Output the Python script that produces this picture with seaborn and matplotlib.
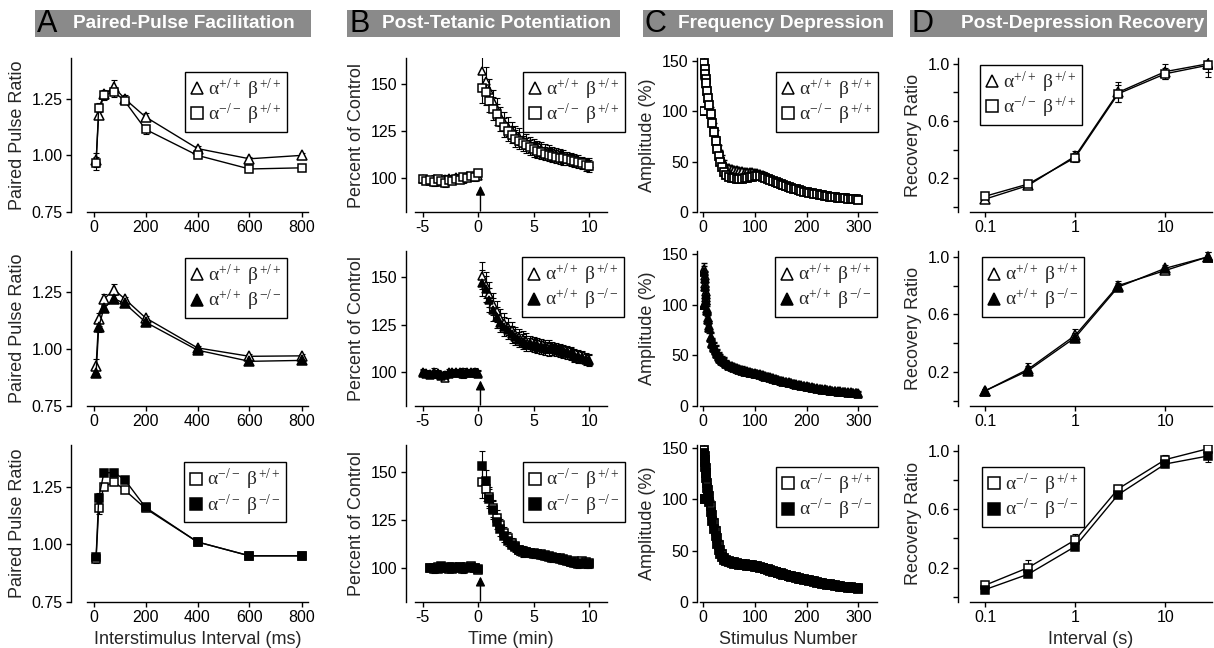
import numpy as np
import matplotlib
matplotlib.use('Agg')
import matplotlib.pyplot as plt
import seaborn as sns
from matplotlib.lines import Line2D
from matplotlib.patches import Rectangle

sns.set_style('ticks')
plt.rcParams['font.family'] = ['Liberation Sans', 'DejaVu Sans']
plt.rcParams['mathtext.fontset'] = 'custom'
plt.rcParams['mathtext.rm'] = 'Liberation Serif'
plt.rcParams['mathtext.it'] = 'Liberation Serif'
plt.rcParams['mathtext.bf'] = 'Liberation Serif:bold'
plt.rcParams['axes.unicode_minus'] = False

# ---------------- DATA ----------------
# Panel A: paired-pulse facilitation
pp_x = [10, 20, 40, 80, 120, 200, 400, 600, 800]
ppA_wt = [0.98, 1.18, 1.27, 1.30, 1.25, 1.17, 1.03, 0.985, 1.00]
ppA_wt_err = [0.03, 0.02, 0.02, 0.035, 0.015, 0.015, 0.01, 0.01, 0.01]
ppA_ako = [0.965, 1.21, 1.265, 1.28, 1.24, 1.115, 1.00, 0.94, 0.945]
ppA_ako_err = [0.03, 0.02, 0.02, 0.02, 0.015, 0.02, 0.01, 0.008, 0.01]
ppB_wt = [0.925, 1.13, 1.22, 1.26, 1.22, 1.137, 1.005, 0.968, 0.97]
ppB_wt_err = [0.03, 0.03, 0.02, 0.025, 0.01, 0.01, 0.008, 0.008, 0.008]
ppB_bko = [0.895, 1.095, 1.18, 1.22, 1.20, 1.118, 0.995, 0.946, 0.95]
ppB_bko_err = [0.015, 0.02, 0.015, 0.02, 0.01, 0.01, 0.008, 0.006, 0.006]
ppC_ako = [0.937, 1.157, 1.25, 1.27, 1.235, 1.155, 1.01, 0.95, 0.95]
ppC_ako_err = [0.02, 0.025, 0.015, 0.015, 0.01, 0.01, 0.008, 0.008, 0.008]
ppC_dko = [0.946, 1.20, 1.31, 1.31, 1.28, 1.16, 1.01, 0.95, 0.95]
ppC_dko_err = [0.015, 0.02, 0.01, 0.015, 0.01, 0.01, 0.008, 0.008, 0.008]

# Panel B: post-tetanic potentiation (time in min)
t_pre = [-5.0, -4.67, -4.33, -4.0, -3.67, -3.33, -3.0, -2.67, -2.33, -2.0,
         -1.67, -1.33, -1.0, -0.67, -0.33, 0.0]
t_post = [0.33, 0.67, 1.0, 1.33, 1.67, 2.0, 2.33, 2.67, 3.0, 3.33, 3.67, 4.0,
          4.33, 4.67, 5.0, 5.33, 5.67, 6.0, 6.33, 6.67, 7.0, 7.33, 7.67, 8.0,
          8.33, 8.67, 9.0, 9.33, 9.67, 10.0]
pre_err = [1.5, 1.5, 1.5, 2, 1.5, 1.5, 2, 1.5, 1.5, 1.5, 1.5, 2, 1.5, 1.5, 2, 1.5]

ptpA_wt_pre = [99.5, 99.0, 98.5, 99.5, 99.0, 98.0, 99.5, 100.0, 99.0, 100.5,
               100.0, 99.5, 101.0, 100.5, 101.5, 101.0]
ptpA_wt_post = [157, 152, 147, 141, 137, 133, 130, 127.5, 125.5, 123.5, 122, 120.5,
                119.5, 118, 117, 116, 115.5, 114.5, 114, 113, 112.5, 112, 111.5,
                111, 110.5, 110, 109.5, 108.5, 108, 107.5]
ptpA_ako_pre = [99.5, 98.5, 99.0, 98.0, 99.5, 98.5, 97.5, 99.0, 98.5, 99.5,
                99.0, 100.5, 100.0, 101.0, 100.5, 103.0]
ptpA_ako_post = [148, 146, 141, 137, 134, 130, 127, 125, 123, 121, 120, 118.5,
                 117.5, 116.5, 115.5, 114.5, 114, 113, 112.5, 112, 111.5, 111,
                 110.5, 110, 109.5, 109, 108.5, 108, 107, 106.5]
ptpA_err = [8, 7, 6, 6, 5.5, 5, 5, 5, 4.5, 4.5, 4.5, 4, 4, 4, 4, 4, 4, 3.5, 3.5,
            3.5, 3.5, 3.5, 3.5, 3, 3, 3, 3, 3, 3, 3]

ptpB_wt_pre = [100, 99.5, 99, 100, 99, 98.5, 97, 100, 99.5, 100, 99.5, 100, 100,
               99.5, 100, 99.5]
ptpB_wt_post = [151, 146, 141, 136, 132, 128.5, 126, 124, 122, 120, 118.5, 117.5,
                116.5, 115.5, 115, 114.5, 114, 113.5, 113.5, 113, 112.5, 112,
                111.5, 111, 110, 109, 108.5, 108, 107, 106.5]
ptpB_bko_pre = [99.5, 99, 98.5, 99, 99.5, 98, 98.5, 99, 100, 99.5, 100, 99, 99.5,
                100, 99.5, 99]
ptpB_bko_post = [147, 144, 138, 133, 129, 126, 124, 122, 120, 118.5, 117, 116,
                 115, 114.5, 114, 113.5, 113, 112.5, 112, 112, 111.5, 111, 110.5,
                 110, 109.5, 108.5, 108, 107.5, 106.5, 106]
ptpB_err = [7, 7, 6.5, 6, 5.5, 5, 5, 4.5, 4.5, 4, 4, 4, 4, 3.5, 3.5, 3.5, 3.5,
            3.5, 3.5, 3, 3, 3, 3, 3, 3, 3, 3, 3, 3, 3]

ptpC_ako_pre = [100, 99, 100.5, 99.5, 100, 99, 100.5, 99.5, 100.5, 99.5, 100.5,
                101, 100, 98.5]
ptpC_ako_post = [144.5, 141, 137, 131, 126, 122, 118, 115.5, 113, 111, 109, 108,
                 108, 107.5, 107.5, 107, 107, 106.5, 106, 105.5, 105, 105, 104.5,
                 104, 103, 103.5, 103, 103.5, 103, 102.5]
ptpC_dko_pre = [99.5, 100, 99, 101, 99.5, 100.5, 99, 100, 100.5, 99, 100, 100.5,
                99.5, 99]
ptpC_dko_post = [153, 145, 136, 130, 124, 120, 116.5, 114, 112, 110.5, 109,
                 108.5, 108, 107.5, 107, 107, 106.5, 106, 105.5, 105, 105, 104.5,
                 104, 103.5, 103, 102.5, 102, 102.5, 102, 102]
ptpC_err = [8, 6, 5, 4.5, 4, 3.5, 3, 3, 2.5, 2.5, 2.5, 2.5, 2, 2, 2, 2, 2, 2, 2,
            2, 2, 2, 2, 2, 2, 2, 2, 2, 2, 2]

# Panel C: frequency depression
stim = [1, 2, 3, 4, 5, 6, 8, 10, 12, 15, 18, 21, 24, 27, 30, 33, 36, 40, 45, 50,
        55, 60, 65, 70, 75, 80, 85, 90, 95, 100,
        105, 110, 115, 120, 125, 130, 135, 140, 145, 150, 155, 160, 165, 170,
        175, 180, 185, 190, 195, 200, 205, 210, 215, 220, 225, 230, 235, 240,
        245, 250, 255, 260, 265, 270, 275, 280, 285, 290, 295, 300]
fdA_wt = [100, 145, 140, 135, 131, 127, 120, 113, 107, 99, 91, 83, 76, 69, 63,
          58, 53, 48, 45, 43.5, 42.5, 42, 41.5, 41, 40.5, 40, 40, 39.5, 39.5, 39,
          38.5, 37.5, 36.5, 35.5, 34, 32.5, 31, 30, 29, 28, 27, 26, 25, 24.5,
          23.5, 23, 22, 21.5, 20.5, 20, 19.5, 19, 18.5, 18, 17.5, 17, 16.5, 16,
          15.5, 15, 15, 14.5, 14, 14, 13.5, 13.5, 13, 13, 12.5, 12.5]
fdA_ako = [100, 148, 142, 137, 132, 128, 120, 113, 106, 97, 88, 79, 71, 63, 56,
           50, 45, 40, 37, 35, 34, 33.5, 33, 33, 33, 33.5, 34, 34.5, 35, 35.5,
           36, 35.5, 35, 34, 33, 32, 31, 29.5, 28.5, 27.5, 26.5, 25.5, 24.5, 24,
           23, 22.5, 21.5, 21, 20, 19.5, 19, 18.5, 18, 17.5, 17, 16.5, 16, 15.5,
           15, 15, 14.5, 14, 14, 13.5, 13.5, 13, 13, 12.5, 12.5, 12]
fdB_wt = [100, 135, 128, 120, 113, 107, 96, 87, 79, 68, 62, 58, 55, 52, 49, 47,
          45.5, 44, 42, 40.5, 39.5, 38.5, 37.5, 36.5, 36, 35, 34.5, 34, 33, 32.5,
          32, 31.5, 30.5, 29.5, 29, 28.5, 27.5, 26.5, 26, 25, 24.5, 24, 23.5, 23,
          22, 21.5, 21, 20.5, 20, 19.5, 19, 18.5, 18, 17.5, 17, 16.5, 16.5, 16,
          15.5, 15, 15, 14.5, 14.5, 14, 14, 13.5, 13.5, 13, 13, 12.5]
fdB_bko = [100, 132, 125, 117, 110, 104, 94, 85, 77, 67, 61, 57, 54, 51, 48,
           46, 44.5, 43, 41, 39.5, 38.5, 37.5, 36.5, 35.5, 35, 34, 33.5, 33, 32.5,
           32, 31.5, 31, 30, 29, 28.5, 28, 27, 26, 25.5, 24.5, 24, 23.5, 23, 22.5,
           21.5, 21, 20.5, 20, 19.5, 19, 18.5, 18, 17.5, 17, 16.5, 16, 16, 15.5,
           15, 14.5, 14.5, 14, 14, 13.5, 13.5, 13, 13, 12.5, 12.5, 12]
fdC_ako = [100, 148, 142, 136, 131, 126, 116, 109, 103, 94, 85, 77, 69, 62, 56,
           51, 47, 43, 41, 39.5, 39, 38.5, 38, 37.5, 37, 37, 36.5, 36.5, 36,
           35.5, 35, 34.5, 33.5, 32.5, 32, 31, 30, 29.5, 28.5, 28, 27, 26.5, 25.5,
           25, 24.5, 24, 23, 22.5, 22, 21.5, 21, 20.5, 20, 19.5, 19, 18.5, 18,
           17.5, 17.5, 17, 16.5, 16, 15.5, 15, 15, 14.5, 14.5, 14, 14, 13.5]
fdC_dko = [100, 145, 138, 132, 126, 121, 111, 103, 97, 88, 79, 71, 64, 57, 51,
           47, 44, 41, 39.5, 38.5, 38, 37.5, 37, 36.5, 36, 36, 35.5, 35.5, 35,
           34.5, 34, 33.5, 33, 32, 31, 30.5, 29.5, 29, 28, 27.5, 26.5, 26, 25,
           24.5, 24, 23.5, 22.5, 22, 21.5, 21, 20.5, 20, 19.5, 19, 18.5, 18, 17.5,
           17, 17, 16.5, 16, 15.5, 15, 14.5, 14.5, 14, 14, 13.5, 13.5, 13]
fd_err = [0, 6, 5, 5, 5, 5, 5, 5, 5, 5, 5, 5, 5, 4, 4, 4, 4, 4, 3, 3, 3, 3, 3, 3,
          3, 3, 3, 3, 3, 3,
          3, 3, 3, 3, 3, 3, 3, 3, 2.5, 2.5, 2.5, 2.5, 2.5, 2.5, 2.5, 2.5, 2, 2,
          2, 2, 2, 2, 2, 2, 2, 2, 2, 2, 2, 2, 2, 2, 2, 2, 2, 2, 2, 2, 2, 2]

# Panel D: post-depression recovery
rec_x = [0.1, 0.3, 1, 3, 10, 30]
recA_wt = [0.055, 0.15, 0.355, 0.80, 0.945, 1.00]
recA_wt_err = [0.02, 0.02, 0.035, 0.07, 0.05, 0.06]
recA_ako = [0.075, 0.16, 0.345, 0.79, 0.93, 0.99]
recA_ako_err = [0.015, 0.02, 0.03, 0.06, 0.04, 0.08]
recB_wt = [0.07, 0.22, 0.455, 0.80, 0.905, 1.0]
recB_wt_err = [0.01, 0.04, 0.045, 0.03, 0.02, 0.03]
recB_bko = [0.07, 0.21, 0.44, 0.79, 0.92, 1.0]
recB_bko_err = [0.01, 0.03, 0.03, 0.03, 0.02, 0.03]
recC_ako = [0.08, 0.20, 0.39, 0.74, 0.94, 1.015]
recC_ako_err = [0.02, 0.05, 0.04, 0.02, 0.03, 0.06]
recC_dko = [0.05, 0.155, 0.345, 0.70, 0.91, 0.965]
recC_dko_err = [0.01, 0.015, 0.02, 0.02, 0.02, 0.04]

WT = r'$\alpha^{+/+}\ \beta^{+/+}$'
AKO = r'$\alpha^{-/-}\ \beta^{+/+}$'
BKO = r'$\alpha^{+/+}\ \beta^{-/-}$'
DKO = r'$\alpha^{-/-}\ \beta^{-/-}$'

titles = ['Paired-Pulse Facilitation', 'Post-Tetanic Potentiation',
          'Frequency Depression', 'Post-Depression Recovery']
letters = ['A', 'B', 'C', 'D']

# ---------------- FIGURE ----------------
W, H = 1214, 648
fig = plt.figure(figsize=(W / 100, H / 100), dpi=100)


def add_ax(l, t, r, b):
    return fig.add_axes([l / W, 1 - b / H, (r - l) / W, (b - t) / H])


def style(ax, yoff_px):
    sns.despine(ax=ax)
    ax.spines['left'].set_position(('outward', yoff_px * 0.72))
    for s in ['left', 'bottom']:
        ax.spines[s].set_linewidth(1.0)
        ax.spines[s].set_color('k')
    ax.tick_params(which='both', direction='out', length=3.5, width=1.0,
                   labelsize=11.5, pad=2.5, colors='k')


def series(ax, x, y, err, marker, filled, line=True, ms=6.5, lw_err=0.8, cap=2.5,
           mew=1.1):
    ax.errorbar(x, y, yerr=err, fmt='none', ecolor='k', elinewidth=lw_err,
                capsize=cap, capthick=lw_err, zorder=2)
    sns.lineplot(x=x, y=y, ax=ax, color='k', lw=1.0,
                 linestyle='-' if line else 'none', marker=marker,
                 markersize=ms, markerfacecolor='k' if filled else 'white',
                 markeredgecolor='k', markeredgewidth=mew, errorbar=None,
                 sort=False, zorder=3)


def legend(ax, items, anchor, loc):
    handles = [Line2D([0], [0], marker=m, ls='none', mfc='k' if f else 'white',
                      mec='k', mew=1.1, ms=9) for (m, f, _) in items]
    labels = [lab for (_, _, lab) in items]
    lg = ax.legend(handles, labels, loc=loc, bbox_to_anchor=anchor, frameon=True,
                   fancybox=False, framealpha=1, edgecolor='k', fontsize=14,
                   handlelength=0.7, handletextpad=0.25, borderpad=0.25,
                   labelspacing=0.0, borderaxespad=0)
    lg.get_frame().set_linewidth(1.0)


cols = [(87, 308), (415, 607), (700, 877), (970, 1212)]
yoffs = [16, 9, 3, 12]
rows = [(58, 212), (251, 406), (445, 602)]

# headers
bars = [(35, 311, 73), (347, 620, 382), (643, 893, 678), (910, 1207, 961)]
for (x0, x1, tx), let, ttl in zip(bars, letters, titles):
    fig.add_artist(Rectangle((x0 / W, 1 - 37 / H), (x1 - x0) / W, 27 / H,
                             transform=fig.transFigure, facecolor='#8a8a8a',
                             edgecolor='none'))
    fig.text((x0 + 2) / W, 1 - 24 / H, let, fontsize=22, color='k',
             ha='left', va='center')
    fig.text(tx / W, 1 - 23.5 / H, ttl, fontsize=13.8, fontweight='bold',
             color='white', ha='left', va='center')

# ----- Column A -----
pp_sets = [
    [(ppA_wt, ppA_wt_err, '^', False, WT), (ppA_ako, ppA_ako_err, 's', False, AKO)],
    [(ppB_wt, ppB_wt_err, '^', False, WT), (ppB_bko, ppB_bko_err, '^', True, BKO)],
    [(ppC_ako, ppC_ako_err, 's', False, AKO), (ppC_dko, ppC_dko_err, 's', True, DKO)],
]
leg_A = [(0.905, 0.91), (0.905, 0.955), (0.90, 0.89)]
for r, (t, b) in enumerate(rows):
    ax = add_ax(cols[0][0], t, cols[0][1], b)
    style(ax, yoffs[0])
    for y, e, m, f, lab in pp_sets[r]:
        series(ax, pp_x, y, e, m, f, line=True, ms=7 if m == '^' else 6.3)
    ax.set_xlim(-25, 825)
    ax.set_ylim(0.75, 1.43)
    ax.set_xticks([0, 200, 400, 600, 800])
    ax.set_yticks([0.75, 1.00, 1.25])
    ax.set_yticklabels(['0.75', '1.00', '1.25'])
    ax.set_ylabel('Paired Pulse Ratio', fontsize=13)
    ax.set_xlabel('Interstimulus Interval (ms)' if r == 2 else '', fontsize=13)
    legend(ax, [(m, f, lab) for (_, _, m, f, lab) in pp_sets[r]], leg_A[r], 'upper right')

# ----- Column B -----
ptp_sets = [
    ([(t_pre, ptpA_wt_pre, t_post, ptpA_wt_post, '^', False, WT),
      (t_pre, ptpA_ako_pre, t_post, ptpA_ako_post, 's', False, AKO)], ptpA_err),
    ([(t_pre, ptpB_wt_pre, t_post, ptpB_wt_post, '^', False, WT),
      (t_pre, ptpB_bko_pre, t_post, ptpB_bko_post, '^', True, BKO)], ptpB_err),
    ([(t_pre[2:], ptpC_ako_pre, t_post, ptpC_ako_post, 's', False, AKO),
      (t_pre[2:], ptpC_dko_pre, t_post, ptpC_dko_post, 's', True, DKO)], ptpC_err),
]
leg_B = [(0.5625, 0.91), (0.557, 0.96), (0.5625, 0.89)]
arrow_tip = [96, 95.5, 95.3]
for r, (t, b) in enumerate(rows):
    ax = add_ax(cols[1][0], t, cols[1][1], b)
    style(ax, yoffs[1])
    sets, perr = ptp_sets[r]
    for tp, yp, tq, yq, m, f, lab in sets:
        xs = list(tp) + list(tq)
        ys = list(yp) + list(yq)
        es = list(pre_err[-len(tp):]) + list(perr)
        series(ax, xs, ys, es, m, f, line=False, ms=5.8 if m == '^' else 5.4,
               lw_err=0.8, cap=2.2)
    ax.set_xlim(-5.7, 11.6)
    ax.set_ylim(82, 164)
    ax.set_xticks([-5, 0, 5, 10])
    ax.set_yticks([100, 125, 150])
    ax.annotate('', xy=(0.2, arrow_tip[r]), xytext=(0.2, 82.5),
                arrowprops=dict(arrowstyle='-|>', color='k', lw=1.0,
                                mutation_scale=14, shrinkA=0, shrinkB=0))
    ax.set_ylabel('Percent of Control', fontsize=13)
    ax.set_xlabel('Time (min)' if r == 2 else '', fontsize=13)
    legend(ax, [(m, f, lab) for (_, _, _, _, m, f, lab) in sets], leg_B[r], 'upper left')

# ----- Column C -----
fd_sets = [
    [(fdA_wt, '^', False, WT), (fdA_ako, 's', False, AKO)],
    [(fdB_wt, '^', False, WT), (fdB_bko, '^', True, BKO)],
    [(fdC_ako, 's', False, AKO), (fdC_dko, 's', True, DKO)],
]
leg_C = [(0.43, 0.91), (0.424, 0.96), (0.43, 0.86)]
for r, (t, b) in enumerate(rows):
    ax = add_ax(cols[2][0], t, cols[2][1], b)
    style(ax, yoffs[2])
    for y, m, f, lab in fd_sets[r]:
        series(ax, stim, y, fd_err, m, f, line=False, ms=5.6 if m == '^' else 5.2,
               lw_err=1.0, cap=2.0, mew=1.3)
    ax.set_xlim(-6, 336)
    ax.set_ylim(0, 153)
    ax.set_xticks([0, 100, 200, 300])
    ax.set_yticks([0, 50, 100, 150])
    ax.set_ylabel('Amplitude (%)', fontsize=13)
    ax.set_xlabel('Stimulus Number' if r == 2 else '', fontsize=13)
    legend(ax, [(m, f, lab) for (_, m, f, lab) in fd_sets[r]], leg_C[r], 'upper left')

# ----- Column D -----
rec_sets = [
    [(recA_wt, recA_wt_err, '^', False, WT), (recA_ako, recA_ako_err, 's', False, AKO)],
    [(recB_wt, recB_wt_err, '^', False, WT), (recB_bko, recB_bko_err, '^', True, BKO)],
    [(recC_ako, recC_ako_err, 's', False, AKO), (recC_dko, recC_dko_err, 's', True, DKO)],
]
leg_D = [(0.041, 0.955), (0.05, 0.96), (0.05, 0.86)]
for r, (t, b) in enumerate(rows):
    ax = add_ax(cols[3][0], t, cols[3][1], b)
    style(ax, yoffs[3])
    for y, e, m, f, lab in rec_sets[r]:
        series(ax, rec_x, y, e, m, f, line=True, ms=7 if m == '^' else 6.3)
    ax.set_xscale('log')
    ax.set_xlim(0.068, 33)
    ax.set_ylim(-0.035, 1.04)
    ax.set_xticks([0.1, 1, 10])
    ax.set_xticklabels(['0.1', '1', '10'])
    ax.xaxis.set_minor_locator(matplotlib.ticker.NullLocator())
    ax.set_yticks([0.2, 0.6, 1.0])
    ax.set_yticklabels(['0.2', '0.6', '1.0'])
    ax.set_yticks([0.0, 0.4, 0.8], minor=True)
    ax.tick_params(axis='y', which='minor', length=3.5, width=1.0)
    ax.set_ylabel('Recovery Ratio', fontsize=13)
    ax.set_xlabel('Interval (s)' if r == 2 else '', fontsize=13)
    legend(ax, [(m, f, lab) for (_, _, m, f, lab) in rec_sets[r]], leg_D[r], 'upper left')

fig.savefig('out.png', dpi=100)
